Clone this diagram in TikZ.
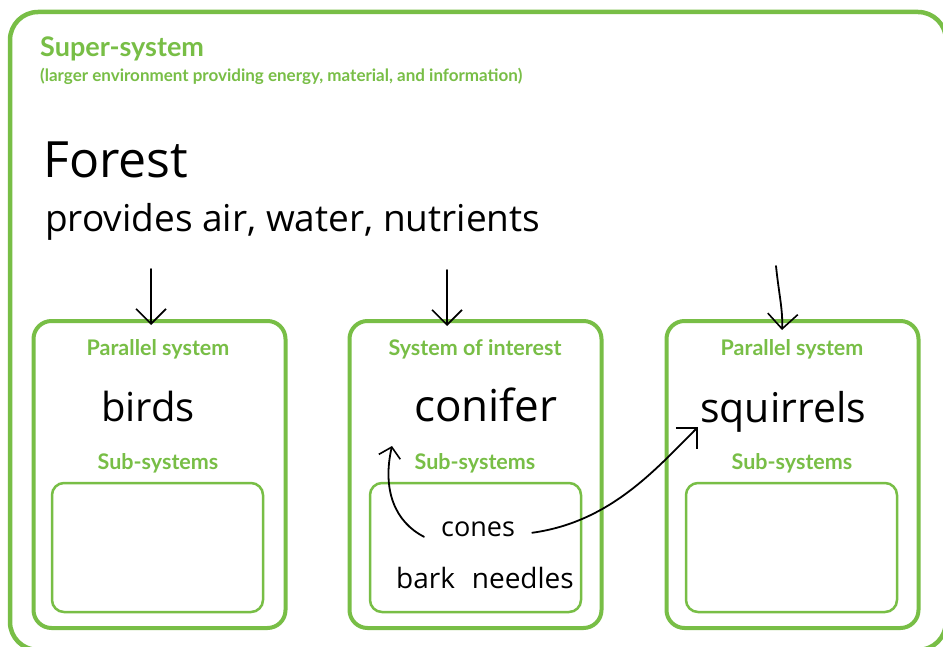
\documentclass[tikz,border=0pt]{standalone}
\usepackage{fontspec}
\setmainfont{Lato}
\newfontfamily\hand{Open Sans}
\usetikzlibrary{arrows.meta}
\definecolor{sysgreen}{RGB}{120,190,70}
\tikzset{
  outerbox/.style={draw=sysgreen, line width=4.5pt, rounded corners=28pt, inner sep=0pt},
  sysbox/.style={draw=sysgreen, line width=4pt, rounded corners=18pt, inner sep=0pt, minimum width=252pt, minimum height=307pt},
  subbox/.style={draw=sysgreen, line width=2.5pt, rounded corners=12pt, inner sep=0pt, minimum width=211pt, minimum height=129pt},
  glabel/.style={text=sysgreen, font=\fontsize{21.5}{24}\selectfont\bfseries, inner sep=0pt, anchor=base},
  htext/.style={font=\hand\fontsize{41}{46}\selectfont, inner sep=0pt, anchor=base west},
  harrow/.style={-{Straight Barb[length=15pt,width=30pt,line width=1.6pt]}, line width=1.8pt, line cap=round},
  harrowsmall/.style={-{Straight Barb[length=10pt,width=22pt,line width=1.6pt]}, line width=1.8pt, line cap=round}
}
\begin{document}
\begin{tikzpicture}[x=1pt,y=-1pt]
\useasboundingbox (0,0) rectangle (943,647);
\fill[white] (0,0) rectangle (943,647);
% super-system
\node[outerbox, minimum width=936pt, minimum height=638pt] (super) at (478,331) {};
\node[text=sysgreen, font=\fontsize{27}{30}\selectfont\bfseries, inner sep=0pt, anchor=base west] (suptitle) at (40,57) {Super-system};
\node[text=sysgreen, font=\fontsize{17}{19}\selectfont\bfseries, inner sep=0pt, anchor=base west] (supsub) at (40,82) {(larger environment providing energy, material, and information)};
\node[htext, font=\hand\fontsize{50}{56}\selectfont] (forest) at (43,178) {Forest};
\node[htext, font=\hand\fontsize{37}{42}\selectfont] (provides) at (45,232) {provides air, water, nutrients};
% systems
\node[sysbox] (b1) at (159.5,474.5) {};
\node[sysbox] (b2) at (475.5,474.5) {};
\node[sysbox] (b3) at (792.5,474.5) {};
\node[subbox] (s1) at (157.5,547.5) {};
\node[subbox] (s2) at (475.5,547.5) {};
\node[subbox] (s3) at (791.5,547.5) {};
\node[glabel] (l1) at (158,355) {Parallel system};
\node[glabel] (l2) at (475,355) {System of interest};
\node[glabel] (l3) at (792,355) {Parallel system};
\node[glabel] (ss1) at (158,469) {Sub-systems};
\node[glabel] (ss2) at (475,469) {Sub-systems};
\node[glabel] (ss3) at (792,469) {Sub-systems};
\node[htext, font=\hand\fontsize{40}{46}\selectfont] (birds) at (101,421) {birds};
\node[htext, font=\hand\fontsize{44}{50}\selectfont] (conifer) at (414,421) {conifer};
\node[htext, font=\hand\fontsize{41}{46}\selectfont] (squirrels) at (700,422) {squirrels};
\node[htext, font=\hand\fontsize{27}{30}\selectfont] (cones) at (441,536) {cones};
\node[htext, font=\hand\fontsize{28}{32}\selectfont] (bark) at (396,588) {bark\hspace{0.6em}needles};
% arrows from the forest
\coordinate (f1) at (151,269);
\coordinate (f2) at (447,270);
\coordinate (f3) at (776,266);
\draw[harrow] (f1) -- (f1 |- b1.north) -- ++(0,6);
\draw[harrow] (f2) -- (f2 |- b2.north) -- ++(0,7);
\coordinate (t3) at (782,330);
\draw[harrow] (f3) .. controls (779,295) and (783,310) .. (t3);
% arrows from cones
\coordinate (c1) at (392,446);
\coordinate (c2) at (698,427);
\draw[harrowsmall] ([xshift=-17pt,yshift=-8pt]cones.west) .. controls (395,522) and (382,490) .. (c1);
\draw[harrow] ([xshift=17pt,yshift=-4pt]cones.east) .. controls (610,522) and (655,470) .. (c2);
\end{tikzpicture}
\end{document}
